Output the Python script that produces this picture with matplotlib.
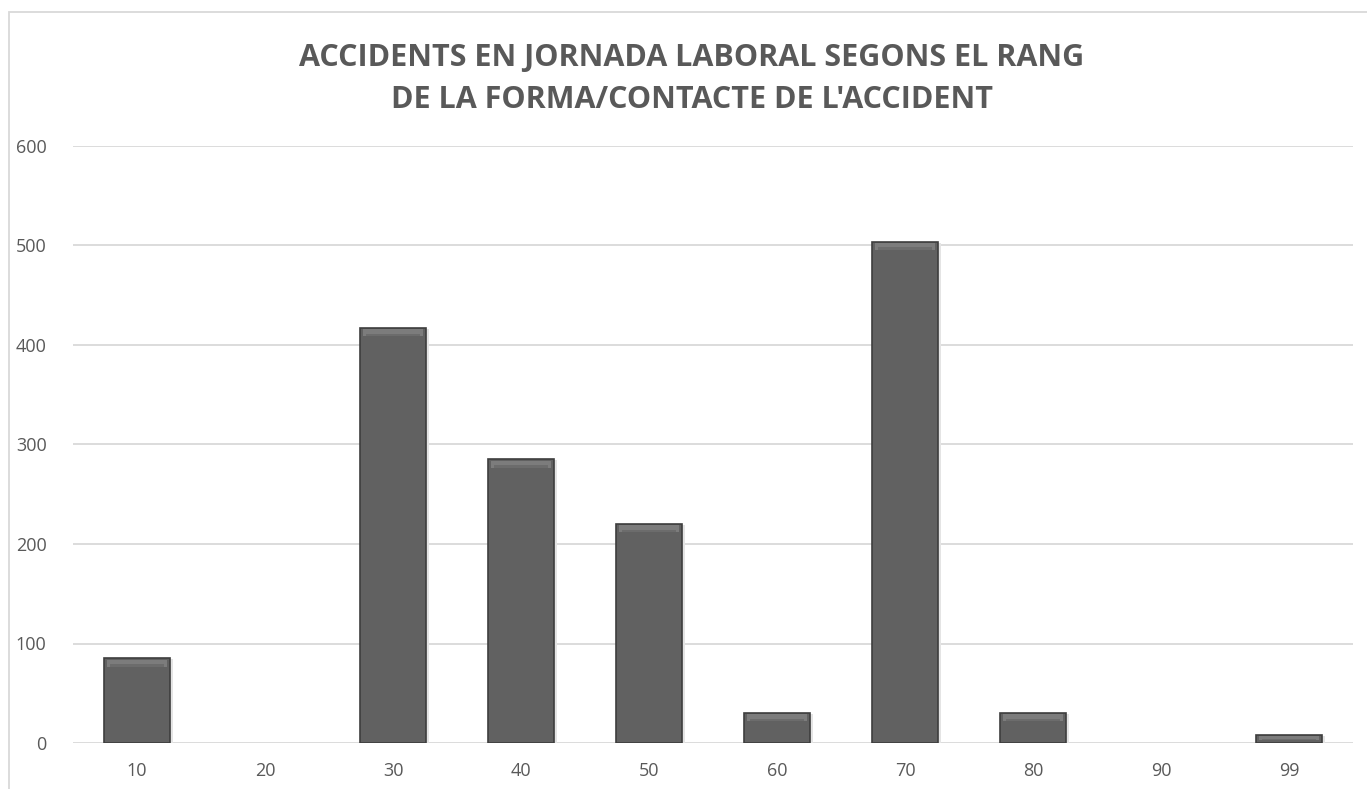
import matplotlib
matplotlib.use("Agg")
import matplotlib.pyplot as plt
from matplotlib.patches import Rectangle

categories = ["10", "20", "30", "40", "50", "60", "70", "80", "90", "99"]
values = [85, 0, 417, 285, 220, 30, 504, 30, 0, 8]
yticks = [0, 100, 200, 300, 400, 500, 600]
title = "ACCIDENTS EN JORNADA LABORAL SEGONS EL RANG\nDE LA FORMA/CONTACTE DE L'ACCIDENT"

W, H = 1367, 789
fig = plt.figure(figsize=(W / 100, H / 100), dpi=100)
fig.patch.set_facecolor("white")

# outer chart border (clipped at right/bottom like the reference)
fig.patches.append(Rectangle((9 / W, -0.1), 1.2, 1 - 12 / H + 0.1, transform=fig.transFigure,
                             fill=False, edgecolor="#d9d9d9", linewidth=1.3))

ax = fig.add_axes([73 / W, 1 - 743 / H, (1353 - 73) / W, (743 - 146) / H])
x = list(range(len(categories)))
ax.set_xlim(-0.5, len(categories) - 0.5)
ax.set_ylim(0, 600)
ax.set_yticks(yticks)
ax.set_xticks(x)
ax.set_xticklabels(categories)
ax.yaxis.grid(True, color="#d9d9d9", linewidth=1.3)
ax.set_axisbelow(True)
for s in ax.spines.values():
    s.set_visible(False)
ax.tick_params(axis="both", length=0, labelsize=13, labelcolor="#595959")
ax.tick_params(axis="y", pad=19)
ax.tick_params(axis="x", pad=14)
for lab in ax.get_xticklabels() + ax.get_yticklabels():
    lab.set_fontfamily("Open Sans")

bw = 0.51
nz = [i for i, v in enumerate(values) if v > 0]
xv = [x[i] for i in nz]
vv = [values[i] for i in nz]
# soft shadow
ax.bar([i + 0.01 for i in xv], [v + 1 for v in vv], width=bw + 0.03, bottom=-2,
       color="#e4e4e4", zorder=2, linewidth=0)
ax.bar(xv, vv, width=bw, color="#616161", edgecolor="#3e3e3e", linewidth=1.2, zorder=3)
# bevel highlight near top of each bar
bev = [min(7, v * 0.45) for v in vv]
ax.bar(xv, bev, width=bw * 0.92, bottom=[v - b - 1.2 for v, b in zip(vv, bev)],
       color="#7c7c7c", linewidth=0, zorder=4)
ax.bar(xv, [b * 0.35 for b in bev], width=bw * 0.84, bottom=[v - b - 1.2 for v, b in zip(vv, bev)],
       color="#6c6c6c", linewidth=0, zorder=5)

fig.text(692 / W, 1 - 79 / H, title, ha="center", va="center", fontsize=22, fontweight="bold",
         color="#595959", family="Open Sans", linespacing=1.55)

fig.savefig("out.png", dpi=100)
